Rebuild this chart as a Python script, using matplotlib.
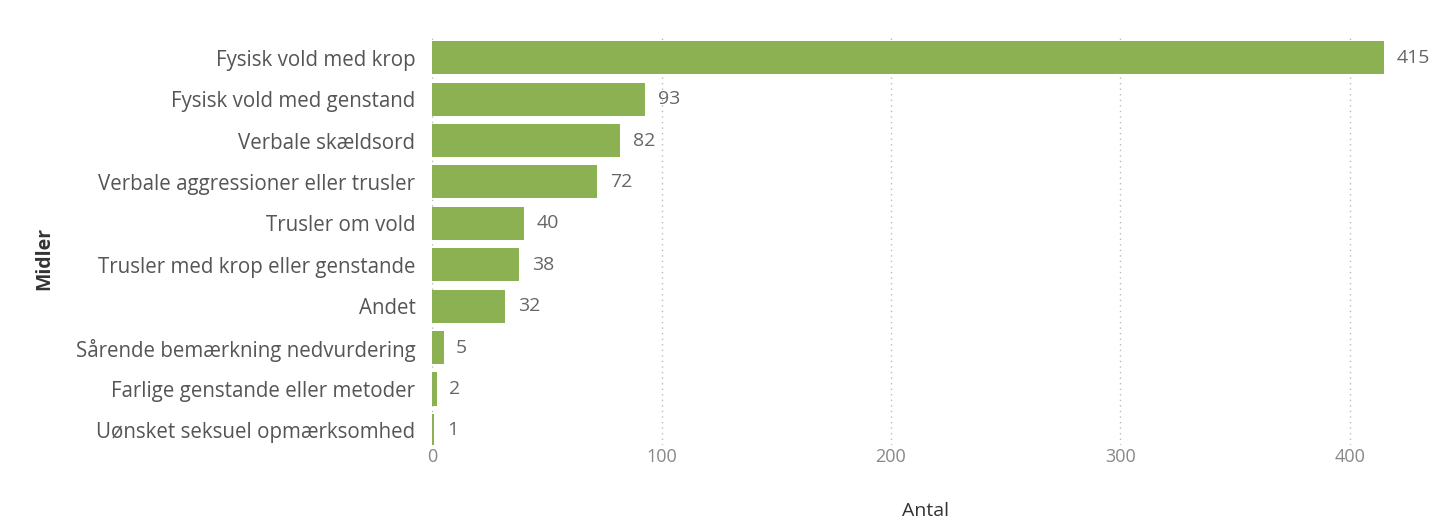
import matplotlib
matplotlib.use("Agg")
import matplotlib.pyplot as plt

categories = [
    "Fysisk vold med krop",
    "Fysisk vold med genstand",
    "Verbale skældsord",
    "Verbale aggressioner eller trusler",
    "Trusler om vold",
    "Trusler med krop eller genstande",
    "Andet",
    "Sårende bemærkning nedvurdering",
    "Farlige genstande eller metoder",
    "Uønsket seksuel opmærksomhed",
]
values = [415, 93, 82, 72, 40, 38, 32, 5, 2, 1]
xticks = [0, 100, 200, 300, 400]

plt.rcParams['font.family'] = ['Open Sans', 'DejaVu Sans']

fig = plt.figure(figsize=(14.34, 5.29), dpi=100)
ax = fig.add_axes([0.3013, 0.159, 0.688, 0.775])

ypos = list(range(len(categories)))
ax.barh(ypos, values, height=0.8, color="#8CB152")
ax.set_ylim(9.35, -0.55)
ax.set_xlim(0, 430)
ax.set_yticks(ypos)
ax.set_yticklabels(categories, fontsize=14.8, color="#555555")
ax.set_xticks(xticks)
ax.set_xticklabels([str(t) for t in xticks], fontsize=13, color="#888888")
ax.tick_params(axis='both', length=0)
ax.tick_params(axis='y', pad=12)
ax.tick_params(axis='x', pad=2)
for s in ax.spines.values():
    s.set_visible(False)
ax.grid(axis='x', linestyle=(0, (1, 3)), color="#BBBBBB", linewidth=1)
ax.set_axisbelow(True)

for y, v in zip(ypos, values):
    ax.text(v + 5.5, y, str(v), va='center', ha='left', fontsize=14, color="#666666")

ax.set_xlabel("Antal", fontsize=14, color="#333333")
ax.xaxis.set_label_coords(0.5, -0.14)
ax.set_ylabel("Midler", fontsize=14, color="#333333", fontweight='bold')
ax.yaxis.set_label_coords(-0.383, 0.456)

fig.savefig("out.png", dpi=100)
